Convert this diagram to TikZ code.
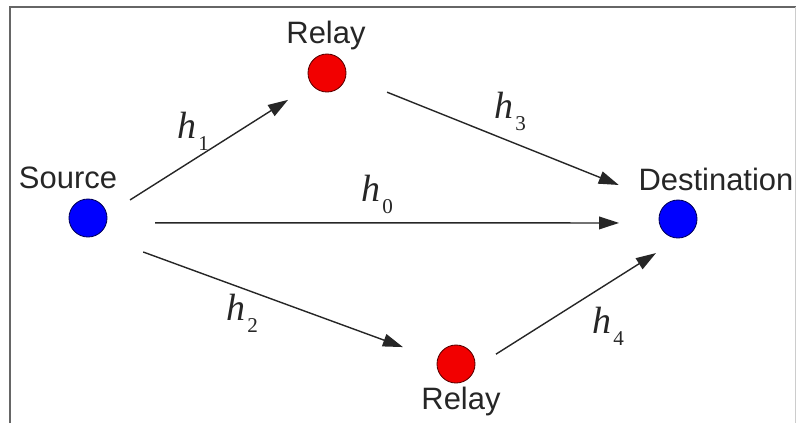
\documentclass[tikz,border=0pt]{standalone}
\usepackage{fontspec}
\setmainfont{Liberation Sans}
\newfontfamily\gainfont{Liberation Serif}
\usepackage{tikz}
\usetikzlibrary{arrows.meta,positioning}

\newcommand{\hgain}[1]{{\gainfont\itshape h}\kern1.5pt\raisebox{-9pt}{\gainfont\fontsize{15}{15}\selectfont #1}}

\begin{document}
\begin{tikzpicture}[
  x=0.025cm, y=-0.025cm,
  terminal/.style={circle, draw=blue!35!black, fill=blue, line width=0.6pt,
    minimum size=0.95cm, inner sep=0pt, outer sep=0pt},
  relaynode/.style={terminal, draw=red!35!black, fill=red!95!black},
  lbl/.style={anchor=base, inner sep=0pt, font=\fontsize{22}{26}\selectfont, text=black!85},
  gainlbl/.style={anchor=base west, inner sep=0pt, font=\fontsize{27}{30}\selectfont, text=black!85},
  arr/.style={-{Triangle[length=0.5cm, width=0.32cm]}, line width=1pt, color=black!85},
  frame/.style={line width=1.4pt, color=black!60},
]
\useasboundingbox (0,0) rectangle (796,423);

% Frame
\draw[frame] (10,423) -- (10,7) -- (796,7);
\draw[black!20, line width=0.6pt] (795,7) -- (795,423);

% Terminals
\node[terminal] (src) at (88,218) {};
\node[terminal] (dst) at (678,219) {};

% Relays
\node[relaynode] (rlytop) at (327,73) {};
\node[relaynode] (rlybot) at (456,364) {};

% Labels
\node[lbl] (srclbl) at (68,188) {Source};
\node[lbl] (dstlbl) at (716,190) {Destination};
\node[lbl] (rlytoplbl) at (326,43) {Relay};
\node[lbl] (rlybotlbl) at (461,409) {Relay};

% Links
\draw[arr, shorten <=0.69cm, shorten >=0.71cm] (src.10) -- (rlytop.218);
\draw[arr, shorten <=1.11cm, shorten >=1.28cm] (rlytop.-8) -- (dst.128);
\draw[arr, shorten <=1.22cm, shorten >=1.01cm] (src.-15) -- (dst.-168);
\draw[arr, shorten <=1.24cm, shorten >=0.92cm] (src.-63) -- (rlybot.167);
\draw[arr, shorten <=0.63cm, shorten >=0.71cm] (rlybot.-11) -- (dst.-84);

% Channel gains
\node[gainlbl] (g1) at (177,138) {\hgain{1}};
\node[gainlbl] (g3) at (494,118) {\hgain{3}};
\node[gainlbl] (g0) at (361,201) {\hgain{0}};
\node[gainlbl] (g2) at (226,320) {\hgain{2}};
\node[gainlbl] (g4) at (592,333) {\hgain{4}};
\end{tikzpicture}
\end{document}
